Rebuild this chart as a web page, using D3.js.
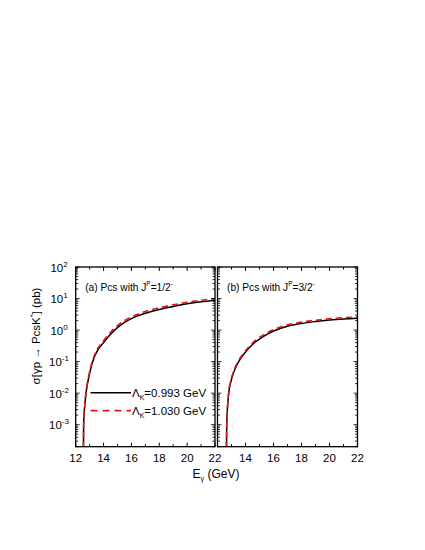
<!DOCTYPE html>
<html>
  <head>
    <meta charset="utf-8">
    <title>Pcs photoproduction</title>
    <script src="https://cdnjs.cloudflare.com/ajax/libs/d3/7.8.5/d3.min.js"></script>
    <style>
      body { margin: 0; background: #fff; }
      text { font-family: "Liberation Sans", Arial, sans-serif; fill: #000; }
    </style>
  </head>
  <body>
    <div id="vis"></div>
    <script>
      // photon energy (GeV) and cross sections (pb)
      var energyA = [12.54, 12.57, 12.67, 12.74, 12.9, 13.14, 13.3, 13.5, 14, 14.5, 15, 15.5, 16, 17, 18, 19, 20, 21, 22]
      var solidA  = [1e-5, 1e-3, 5e-3, 1e-2, 0.0263, 0.076, 0.126, 0.2, 0.4, 0.74, 1.2, 1.74, 2.3, 3.4, 4.5, 5.6, 6.8, 7.9, 8.9]
      var dashedA = [1e-5, 1e-3, 5.3e-3, 1.08e-2, 0.029, 0.085, 0.141, 0.225, 0.46, 0.85, 1.38, 2.0, 2.62, 3.9, 5.1, 6.35, 7.6, 8.8, 10.0]

      var energyB = [12.61, 12.66, 12.8, 12.95, 13.15, 13.45, 14, 14.5, 15, 15.5, 16, 17, 18, 19, 20, 21, 22]
      var solidB  = [1e-5, 1e-3, 1e-2, 0.0224, 0.0447, 0.089, 0.2, 0.35, 0.52, 0.72, 0.93, 1.32, 1.62, 1.86, 2.07, 2.24, 2.37]
      var dashedB = [1e-5, 1e-3, 1.05e-2, 0.0245, 0.049, 0.098, 0.22, 0.39, 0.58, 0.8, 1.03, 1.46, 1.79, 2.05, 2.28, 2.47, 2.6]

      var xTicks = [12, 14, 16, 18, 20, 22]
      var yExps = [-3, -2, -1, 0, 1, 2]
      var legendLabels = ['=0.993 GeV', '=1.030 GeV']

      var yTop = 267, yBot = 446.7
      var panels = [
        { id: 'a', x0: 75.7, x1: 215, E: energyA, s: solidA, d: dashedA, title: '(a) Pcs with J', frac: '=1/2', showFirst: true },
        { id: 'b', x0: 217.5, x1: 357.5, E: energyB, s: solidB, d: dashedB, title: '(b) Pcs with J', frac: '=3/2', showFirst: false }
      ]

      var svg = d3.select('#vis').append('svg').attr('width', 425).attr('height', 550)

      var y = d3.scaleLog().domain([2e-4, 100]).range([yBot, yTop])
      var yTickVals = []
      for (var e = -4; e < 2; e++) {
        for (var m = 1; m < 10; m++) {
          var v = m * Math.pow(10, e)
          if (v >= 2e-4 && v <= 100) yTickVals.push({ v: v, major: m === 1 })
        }
      }
      yTickVals.push({ v: 100, major: true })

      panels.forEach(function(p) {
        var x = d3.scaleLinear().domain([12, 22]).range([p.x0, p.x1])
        var g = svg.append('g')

        g.append('clipPath').attr('id', 'clip' + p.id)
          .append('rect').attr('x', p.x0).attr('y', yTop).attr('width', p.x1 - p.x0).attr('height', yBot - yTop)

        var line = d3.line().curve(d3.curveMonotoneX)
          .x(function(d){ return x(d[0]); })
          .y(function(d){ return y(d[1]); })

        g.append('path').datum(d3.zip(p.E, p.s))
          .attr('clip-path', 'url(#clip' + p.id + ')')
          .attr('d', line).attr('fill', 'none').attr('stroke', '#000').attr('stroke-width', 1.5)
        g.append('path').datum(d3.zip(p.E, p.d))
          .attr('clip-path', 'url(#clip' + p.id + ')')
          .attr('d', line).attr('fill', 'none').attr('stroke', '#e8131b')
          .attr('stroke-width', 1.6).attr('stroke-dasharray', '6,4')

        // ticks pointing inward on all four sides
        d3.range(12, 22.01, 1).forEach(function(t) {
          var len = (t % 2 === 0) ? 4 : 2.5
          g.append('line').attr('x1', x(t)).attr('x2', x(t)).attr('y1', yBot).attr('y2', yBot - len)
            .attr('stroke', '#000').attr('stroke-width', 1)
          g.append('line').attr('x1', x(t)).attr('x2', x(t)).attr('y1', yTop).attr('y2', yTop + len)
            .attr('stroke', '#000').attr('stroke-width', 1)
        })
        yTickVals.forEach(function(t) {
          var len = t.major ? 4 : 2.5
          g.append('line').attr('x1', p.x0).attr('x2', p.x0 + len).attr('y1', y(t.v)).attr('y2', y(t.v))
            .attr('stroke', '#000').attr('stroke-width', 0.8)
          g.append('line').attr('x1', p.x1).attr('x2', p.x1 - len).attr('y1', y(t.v)).attr('y2', y(t.v))
            .attr('stroke', '#000').attr('stroke-width', 0.8)
        })

        g.append('rect').attr('x', p.x0).attr('y', yTop).attr('width', p.x1 - p.x0).attr('height', yBot - yTop)
          .attr('fill', 'none').attr('stroke', '#000').attr('stroke-width', 1.3)

        // x tick labels
        g.selectAll('text.xt').data(xTicks.filter(function(t){ return p.showFirst || t > 12; })).enter()
          .append('text').attr('class', 'xt')
          .attr('x', function(t){ return x(t); })
          .attr('y', yBot + 15.5)
          .attr('text-anchor', 'middle').attr('font-size', 11.5)
          .text(function(t){ return t; })

        // panel title
        var tt = g.append('text').attr('x', p.x0 + 9.5).attr('y', 291).attr('font-size', 10.2)
        tt.append('tspan').text(p.title)
        tt.append('tspan').attr('dy', -5).attr('font-size', 6.5).text('P')
        tt.append('tspan').attr('dy', 5).text(p.frac)
        tt.append('tspan').attr('dy', -5).attr('font-size', 6.5).text('-')
      })

      // y tick labels on left panel
      var yl = svg.selectAll('text.yt').data(yExps).enter()
        .append('text').attr('class', 'yt')
        .attr('x', 59)
        .attr('y', function(k){ return y(Math.pow(10, k)) + 4.5; })
        .attr('text-anchor', 'middle').attr('font-size', 11.5)
      yl.append('tspan').text('10')
      yl.append('tspan').attr('dy', -5).attr('font-size', 8).text(function(k){ return k; })

      // legend
      var legY = [392.7, 410.7]
      legY.forEach(function(ly, i) {
        svg.append('line').attr('x1', 90.5).attr('x2', 131).attr('y1', ly).attr('y2', ly)
          .attr('stroke', i === 0 ? '#000' : '#e8131b').attr('stroke-width', i === 0 ? 1.6 : 1.7)
          .attr('stroke-dasharray', i === 0 ? null : '7,5')
        var lt = svg.append('text').attr('x', 132).attr('y', ly + 4).attr('font-size', 11.5)
        lt.append('tspan').text('\u039B')
        lt.append('tspan').attr('dy', 3).attr('font-size', 7).text('K')
        lt.append('tspan').attr('dy', -3).text(legendLabels[i])
      })

      // axis titles
      var xt = svg.append('text').attr('x', 216).attr('y', 478).attr('text-anchor', 'middle').attr('font-size', 12)
      xt.append('tspan').text('E')
      xt.append('tspan').attr('dy', 3).attr('font-size', 7).text('\u03B3')
      xt.append('tspan').attr('dy', -3).text(' (GeV)')

      var yt = svg.append('text').attr('transform', 'translate(40,336) rotate(-90)')
        .attr('text-anchor', 'middle').attr('font-size', 11.5)
      yt.append('tspan').text('\u03C3[\u03B3p \u2192 PcsK')
      yt.append('tspan').attr('dy', -5).attr('font-size', 7).text('*')
      yt.append('tspan').attr('dy', 5).text('] (pb)')
    </script>
  </body>
</html>
